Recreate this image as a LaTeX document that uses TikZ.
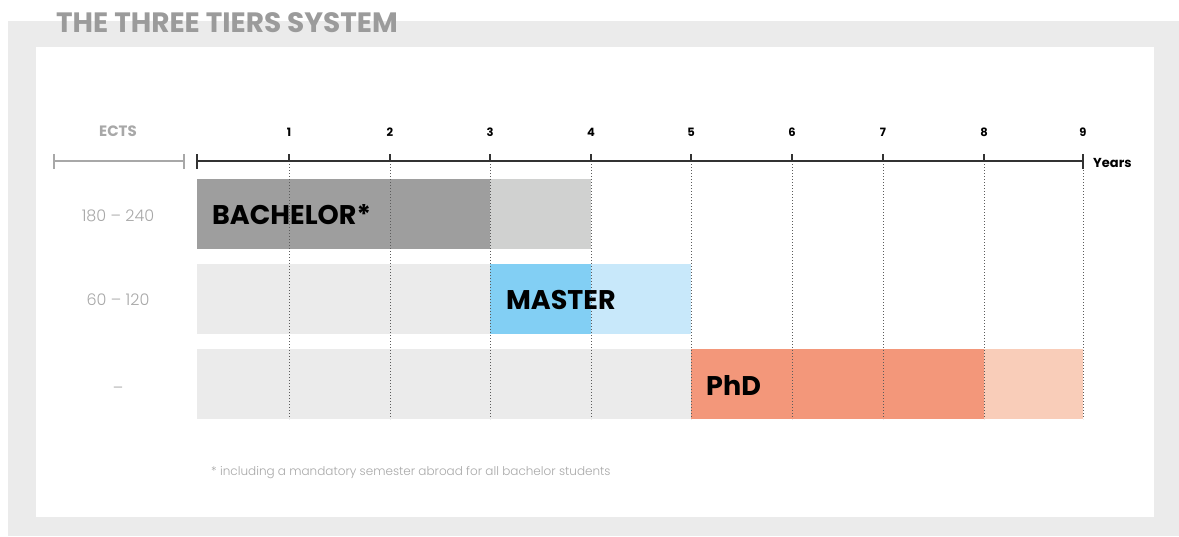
\documentclass[tikz,border=0pt]{standalone}
\usepackage{fontspec}
\setmainfont{Poppins}
\newfontfamily\lightfont{Poppins Light}
\definecolor{framegray}{HTML}{EBEBEB}
\definecolor{titlegray}{HTML}{9B9B9B}
\definecolor{rowbg}{HTML}{EBEBEB}
\definecolor{bachdark}{HTML}{9E9E9E}
\definecolor{bachlight}{HTML}{D0D1D0}
\definecolor{masterdark}{HTML}{82CFF4}
\definecolor{masterlight}{HTML}{C8E8FA}
\definecolor{phddark}{HTML}{F3977A}
\definecolor{phdlight}{HTML}{F9CDB9}
\definecolor{valgray}{HTML}{A8A8A8}
\definecolor{axisdark}{HTML}{333333}
\begin{document}
\begin{tikzpicture}[x=1pt,y=-1pt,
  lbl/.style={inner sep=0pt,anchor=base},
  axisline/.style={draw=axisdark,line width=1.6pt},
  tickline/.style={draw=axisdark,line width=1.3pt},
  gridline/.style={draw=axisdark!80,line width=0.8pt,dash pattern=on 1pt off 2pt},
  ectsline/.style={draw=valgray,line width=1.2pt},
  tiername/.style={lbl,anchor=base west,font=\bfseries\fontsize{27}{27}\selectfont},
  yearnum/.style={lbl,font=\bfseries\fontsize{11.5}{12}\selectfont},
  ectsval/.style={lbl,text=valgray,font=\lightfont\fontsize{16}{16}\selectfont}]
\useasboundingbox (0,0) rectangle (1179,536);
% frame
\fill[framegray] (8,21) rectangle (1179,536);
\fill[white] (36,47) rectangle (1154,517);
% title
\node[lbl,anchor=base west,text=titlegray,font=\bfseries\fontsize{28}{28}\selectfont] (title) at (56,32) {THE THREE TIERS SYSTEM};
% rows
\fill[rowbg] (197,264) rectangle (490,334);
\fill[rowbg] (197,349) rectangle (691,419);
\fill[bachdark] (197,179) rectangle (490,249);
\fill[bachlight] (490,179) rectangle (591,249);
\fill[masterdark] (490,264) rectangle (591,334);
\fill[masterlight] (591,264) rectangle (691,334);
\fill[phddark] (691,349) rectangle (984,419);
\fill[phdlight] (984,349) rectangle (1083,419);
% grid and ticks
\foreach \n/\x in {1/289,2/390,3/490,4/591,5/691,6/792,7/883,8/984,9/1083}{
  \coordinate (top\n) at (\x,161);
  \coordinate (bot\n) at (\x,419);
  \draw[gridline] (top\n) -- (bot\n);
  \draw[tickline] (\x,154) -- (top\n);
  \node[yearnum] (y\n) at (\x,136) {\n};
}
\coordinate (axstart) at (197,161);
\draw[axisline] (axstart) -- (top9);
\draw[tickline] (197,154) -- (197,169);
\draw[tickline] (1083,154) -- (1083,169);
\node[lbl,anchor=base west,font=\bfseries\fontsize{13}{13}\selectfont] (years) at (1093,167) {Years};
% ECTS
\node[lbl,text=valgray,font=\bfseries\fontsize{15}{15}\selectfont] (ects) at (118,136) {ECTS};
\coordinate (el) at (54,161);
\coordinate (er) at (184,161);
\draw[ectsline] (el) -- (er);
\draw[ectsline] (54,154) -- (54,169);
\draw[ectsline] (184,154) -- (184,169);
\node[ectsval] (v1) at (118,221) {180 – 240};
\node[ectsval] (v2) at (118,305) {60 – 120};
\node[ectsval] (v3) at (118,393) {–};
% tier names
\node[tiername] (bach) at (212,224) {BACHELOR*};
\node[tiername] (mast) at (506,309) {MASTER};
\node[tiername] (phd) at (706,395) {PhD};
% footnote
\node[lbl,anchor=base west,text=valgray,font=\lightfont\fontsize{12}{12}\selectfont] (foot) at (211,475) {* including a mandatory semester abroad for all bachelor students};
\end{tikzpicture}
\end{document}
